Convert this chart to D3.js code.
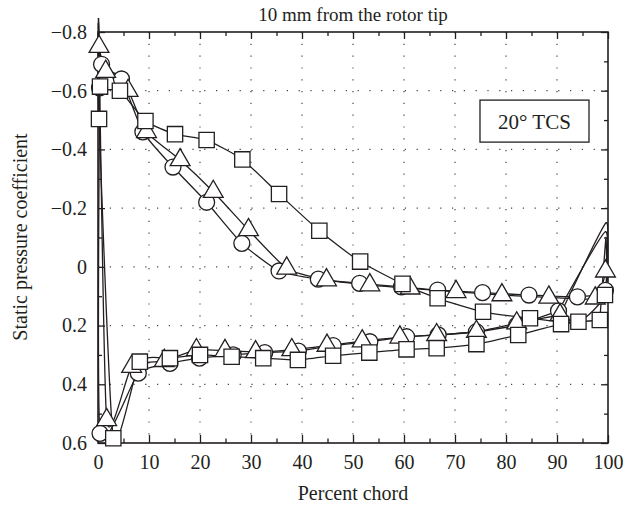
<!DOCTYPE html>
<html>
<head>
<meta charset="utf-8">
<script src="https://cdn.jsdelivr.net/npm/d3@7"></script>
<style>
  body { margin: 0; background: #fff; }
  svg text { font-family: "Liberation Serif", "DejaVu Serif", serif !important; fill: #231f20; }
</style>
</head>
<body>
<div id="graphic"></div>
<script>
// chart values (x = percent chord, y = Cp)
const xTicks = [0, 10, 20, 30, 40, 50, 60, 70, 80, 90, 100];
const yTicks = [-0.8, -0.6, -0.4, -0.2, 0, 0.2, 0.4, 0.6];
const yTickLabels = ["\u22120.8", "\u22120.6", "\u22120.4", "\u22120.2", "0", "0.2", "0.4", "0.6"];

const circleUpper = [[0.7,-0.69],[4.6,-0.64],[8.8,-0.46],[14.7,-0.34],[21.3,-0.22],[28.2,-0.08],[35.5,0.014],
  [43.2,0.042],[51.3,0.056],[59.5,0.068],[66.6,0.079],[75.4,0.088],[84.5,0.096],[94,0.102],[99.5,0.08]];
const circleLower = [[0.3,-0.61],[0.4,0.567],[7.9,0.362],[14.1,0.329],[19.9,0.311],[26.5,0.300],[32.7,0.292],
  [39.3,0.287],[46.1,0.268],[53.3,0.255],[60.5,0.238],[66.7,0.232],[74.2,0.221],[82.1,0.198],[90.3,0.150]];

const triUpper = [[0.2,-0.75],[1.5,-0.665],[5.9,-0.60],[9.5,-0.46],[16.1,-0.364],[22.6,-0.256],[29.5,-0.126],
  [37.0,0.005],[44.8,0.045],[53.3,0.062],[61.2,0.073],[70.2,0.085],[79.2,0.096],[88.4,0.104],[97.5,0.107],[99.5,0.015]];
const triLower = [[1.7,0.521],[6.6,0.34],[13.0,0.32],[19.3,0.283],[24.9,0.286],[30.9,0.29],[38.0,0.283],
  [44.9,0.268],[51.8,0.253],[59.2,0.24],[66.4,0.232],[74.2,0.221],[82.1,0.192],[90.6,0.164]];

const sqUpper = [[0.4,-0.614],[4.3,-0.60],[9.3,-0.497],[15.1,-0.452],[21.3,-0.432],[28.3,-0.366],[35.5,-0.248],
  [43.4,-0.123],[51.4,-0.018],[59.7,0.058],[66.6,0.107],[75.5,0.153],[84.7,0.175],[94.2,0.187],[99.4,0.096]];
const sqLower = [[0.2,-0.504],[3.0,0.584],[8.2,0.323],[14.1,0.311],[20.0,0.300],[26.2,0.306],[32.4,0.311],
  [39.2,0.317],[46.1,0.303],[53.2,0.292],[60.5,0.281],[66.4,0.277],[74.2,0.263],[82.4,0.232],[90.8,0.195],[98.4,0.181]];

// leading / trailing edge peaks of the fitted curves (no markers there)
const leTips = { circle: [0.1,-0.83], tri: [0.15,-0.825], sq: [0.05,-0.83] };
const teTips = { circle: [99.5,-0.12], tri: [99.6,-0.15], sq: [99.6,-0.1] };

const title = "10 mm from the rotor tip";
const xLabel = "Percent chord";
const yLabel = "Static pressure coefficient";
const boxLabel = "20\u00b0 TCS";

// set the dimensions and margins of the graph
const margin = {top: 32, right: 27, bottom: 67, left: 98};
const width = 635 - margin.left - margin.right;
const height = 510 - margin.top - margin.bottom;

const svg = d3.select("#graphic")
    .append("svg")
    .attr("width", 635)
    .attr("height", 510);

// curves may poke above the frame at the leading edge, but not past x = 100
svg.append("defs").append("clipPath")
    .attr("id", "clip")
    .append("rect")
        .attr("x", -4).attr("y", -14)
        .attr("width", width + 4.5).attr("height", height + 20);

const g = svg.append("g")
    .attr("transform", `translate(${margin.left}, ${margin.top})`);

const x = d3.scaleLinear().domain([0, 100]).range([0, width]);
const y = d3.scaleLinear().domain([-0.8, 0.6]).range([0, height]);

// dotted grid
const grid = g.append("g").attr("class", "grid");
grid.selectAll("line.v")
    .data(xTicks.slice(1, -1))
    .enter().append("line")
        .attr("x1", d => x(d)).attr("x2", d => x(d))
        .attr("y1", 0).attr("y2", height)
        .style("stroke", "#444").style("stroke-width", 1.2)
        .style("stroke-dasharray", "1.2,10.6");
grid.selectAll("line.h")
    .data(yTicks.slice(1, -1))
    .enter().append("line")
        .attr("x1", 0).attr("x2", width)
        .attr("y1", d => y(d)).attr("y2", d => y(d))
        .style("stroke", "#444").style("stroke-width", 1.2)
        .style("stroke-dasharray", "1.2,10.6");

// axes: ticks inside on all four sides
const xMinor = d3.range(5, 100, 10);
const yMinor = d3.range(-0.7, 0.6, 0.2);

function styleAxis(sel) {
    sel.attr("font-family", null);
    sel.select(".domain").remove();
    sel.selectAll("line").style("stroke", "#231f20").style("stroke-width", 1.3);
    sel.selectAll("text").style("font-size", "20px");
}

g.append("g")
    .attr("transform", `translate(0, ${height})`)
    .call(d3.axisBottom(x).tickValues(xTicks).tickSize(-8).tickPadding(12))
    .call(styleAxis);
g.append("g")
    .attr("transform", `translate(0, ${height})`)
    .call(d3.axisBottom(x).tickValues(xMinor).tickSize(-4.5).tickFormat(""))
    .call(styleAxis);
g.append("g")
    .call(d3.axisTop(x).tickValues(xTicks).tickSize(-7).tickFormat(""))
    .call(styleAxis);
g.append("g")
    .call(d3.axisTop(x).tickValues(xMinor).tickSize(-4).tickFormat(""))
    .call(styleAxis);

g.append("g")
    .call(d3.axisLeft(y).tickValues(yTicks).tickSize(-7).tickPadding(11)
        .tickFormat((d, i) => yTickLabels[i]))
    .call(styleAxis);
g.append("g")
    .call(d3.axisLeft(y).tickValues(yMinor).tickSize(-4).tickFormat(""))
    .call(styleAxis);
g.append("g")
    .attr("transform", `translate(${width}, 0)`)
    .call(d3.axisRight(y).tickValues(yTicks).tickSize(-7).tickFormat(""))
    .call(styleAxis);
g.append("g")
    .attr("transform", `translate(${width}, 0)`)
    .call(d3.axisRight(y).tickValues(yMinor).tickSize(-4).tickFormat(""))
    .call(styleAxis);

// frame
g.append("rect")
    .attr("width", width).attr("height", height)
    .attr("fill", "none").attr("stroke", "#231f20").attr("stroke-width", 1.6);

// fitted curves: lower side TE->LE, LE peak, upper side LE->TE, TE peak, back to lower TE
const series = [
    {key: "circle", upper: circleUpper, lower: circleLower},
    {key: "tri", upper: triUpper, lower: triLower},
    {key: "sq", upper: sqUpper, lower: sqLower}
];

const line = d3.line()
    .x(d => x(d[0]))
    .y(d => y(d[1]))
    .curve(d3.curveCardinal.tension(0.45));

g.append("g")
    .attr("clip-path", "url(#clip)")
    .selectAll("path")
    .data(series)
    .enter().append("path")
        .attr("d", s => {
            const low = s.lower.slice().reverse();
            return line([...low, leTips[s.key], ...s.upper, teTips[s.key], low[0]]);
        })
        .attr("fill", "none")
        .attr("stroke", "#231f20")
        .attr("stroke-width", 1.3);

// markers
const shapes = {
    circle: d3.symbol().type(d3.symbolCircle).size(200),
    tri: d3.symbol().type(d3.symbolTriangle).size(170),
    sq: d3.symbol().type(d3.symbolSquare).size(235)
};

series.forEach(s => {
    g.append("g").selectAll("path")
        .data([...s.upper, ...s.lower])
        .enter().append("path")
            .attr("transform", d => `translate(${x(d[0])}, ${y(d[1])})`)
            .attr("d", shapes[s.key])
            .attr("fill", "#fff")
            .attr("stroke", "#231f20")
            .attr("stroke-width", 1.3);
});

// annotation box
const box = g.append("g").attr("transform", `translate(${x(74.9)}, ${y(-0.568)})`);
box.append("rect")
    .attr("width", 109).attr("height", 42)
    .attr("fill", "#fff").attr("stroke", "#231f20").attr("stroke-width", 1.3);
box.append("text")
    .attr("x", 54.5).attr("y", 29)
    .attr("text-anchor", "middle")
    .style("font-size", "21px")
    .text(boxLabel);

// titles
svg.append("text")
    .attr("x", margin.left + width / 2).attr("y", 21)
    .attr("text-anchor", "middle")
    .style("font-size", "19px")
    .text(title);

svg.append("text")
    .attr("x", margin.left + width / 2).attr("y", 500)
    .attr("text-anchor", "middle")
    .style("font-size", "20px")
    .text(xLabel);

svg.append("text")
    .attr("transform", `translate(27, ${margin.top + 205}) rotate(-90)`)
    .attr("text-anchor", "middle")
    .style("font-size", "20px")
    .text(yLabel);
</script>
</body>
</html>
